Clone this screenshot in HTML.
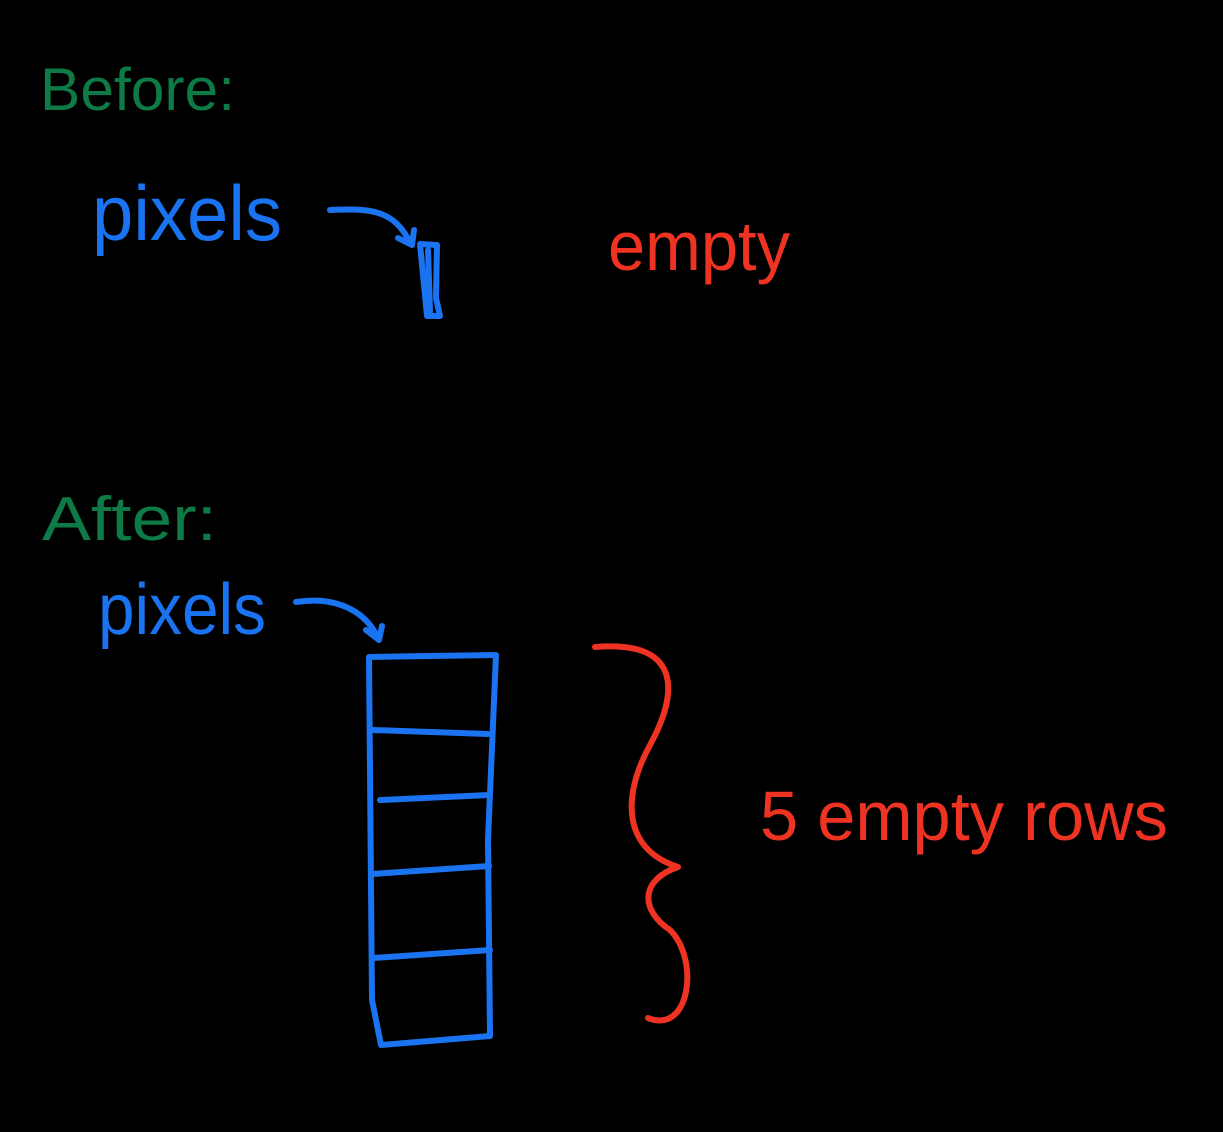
<!DOCTYPE html>
<html><head><meta charset="utf-8"><style>
html,body{margin:0;padding:0;background:#000;}
svg{display:block}
text{font-family:"Liberation Sans",sans-serif;}
</style></head><body>
<svg width="1223" height="1132" viewBox="0 0 1223 1132">
<rect width="1223" height="1132" fill="#000"/>
<g fill="none" stroke-linecap="round" stroke-linejoin="round" stroke-width="6">
<text x="40" y="110" font-size="60" fill="#0e7a45" textLength="195" lengthAdjust="spacingAndGlyphs">Before:</text>
<text x="92" y="240" font-size="78" fill="#1a73f0" textLength="190" lengthAdjust="spacingAndGlyphs">pixels</text>
<path d="M330 210 C370 208 395 210 410 243 M398 238 L412 245 L414 230" stroke="#1a73f0"/>
<path d="M420 244 L437 245 L436 298 L440 316 L427 316 Z M428 250 L430 312" stroke="#1a73f0"/>
<text x="608" y="270" font-size="70" fill="#ee3322" textLength="182" lengthAdjust="spacingAndGlyphs">empty</text>
<text x="42" y="540" font-size="62" fill="#0e7a45" textLength="175" lengthAdjust="spacingAndGlyphs">After:</text>
<text x="98" y="634" font-size="72" fill="#1a73f0" textLength="168" lengthAdjust="spacingAndGlyphs">pixels</text>
<path d="M296 602 C335 596 365 610 378 638 M366 630 L379 640 L382 626" stroke="#1a73f0"/>
<path d="M369 657 L496 655 L488 840 L490 1036 L381 1045 L372 1000 Z" stroke="#1a73f0"/>
<path d="M372 730 L488 734 M380 800 L489 795 M372 874 L489 866 M373 958 L490 950" stroke="#1a73f0"/>
<path d="M595 647 C680 640 680 690 650 745 C620 800 625 850 678 867 C640 880 640 910 670 930 C700 960 690 1035 648 1018" stroke="#ee3322"/>
<text x="760" y="840" font-size="70" fill="#ee3322" textLength="408" lengthAdjust="spacingAndGlyphs">5 empty rows</text>
</g>
</svg>
</body></html>
